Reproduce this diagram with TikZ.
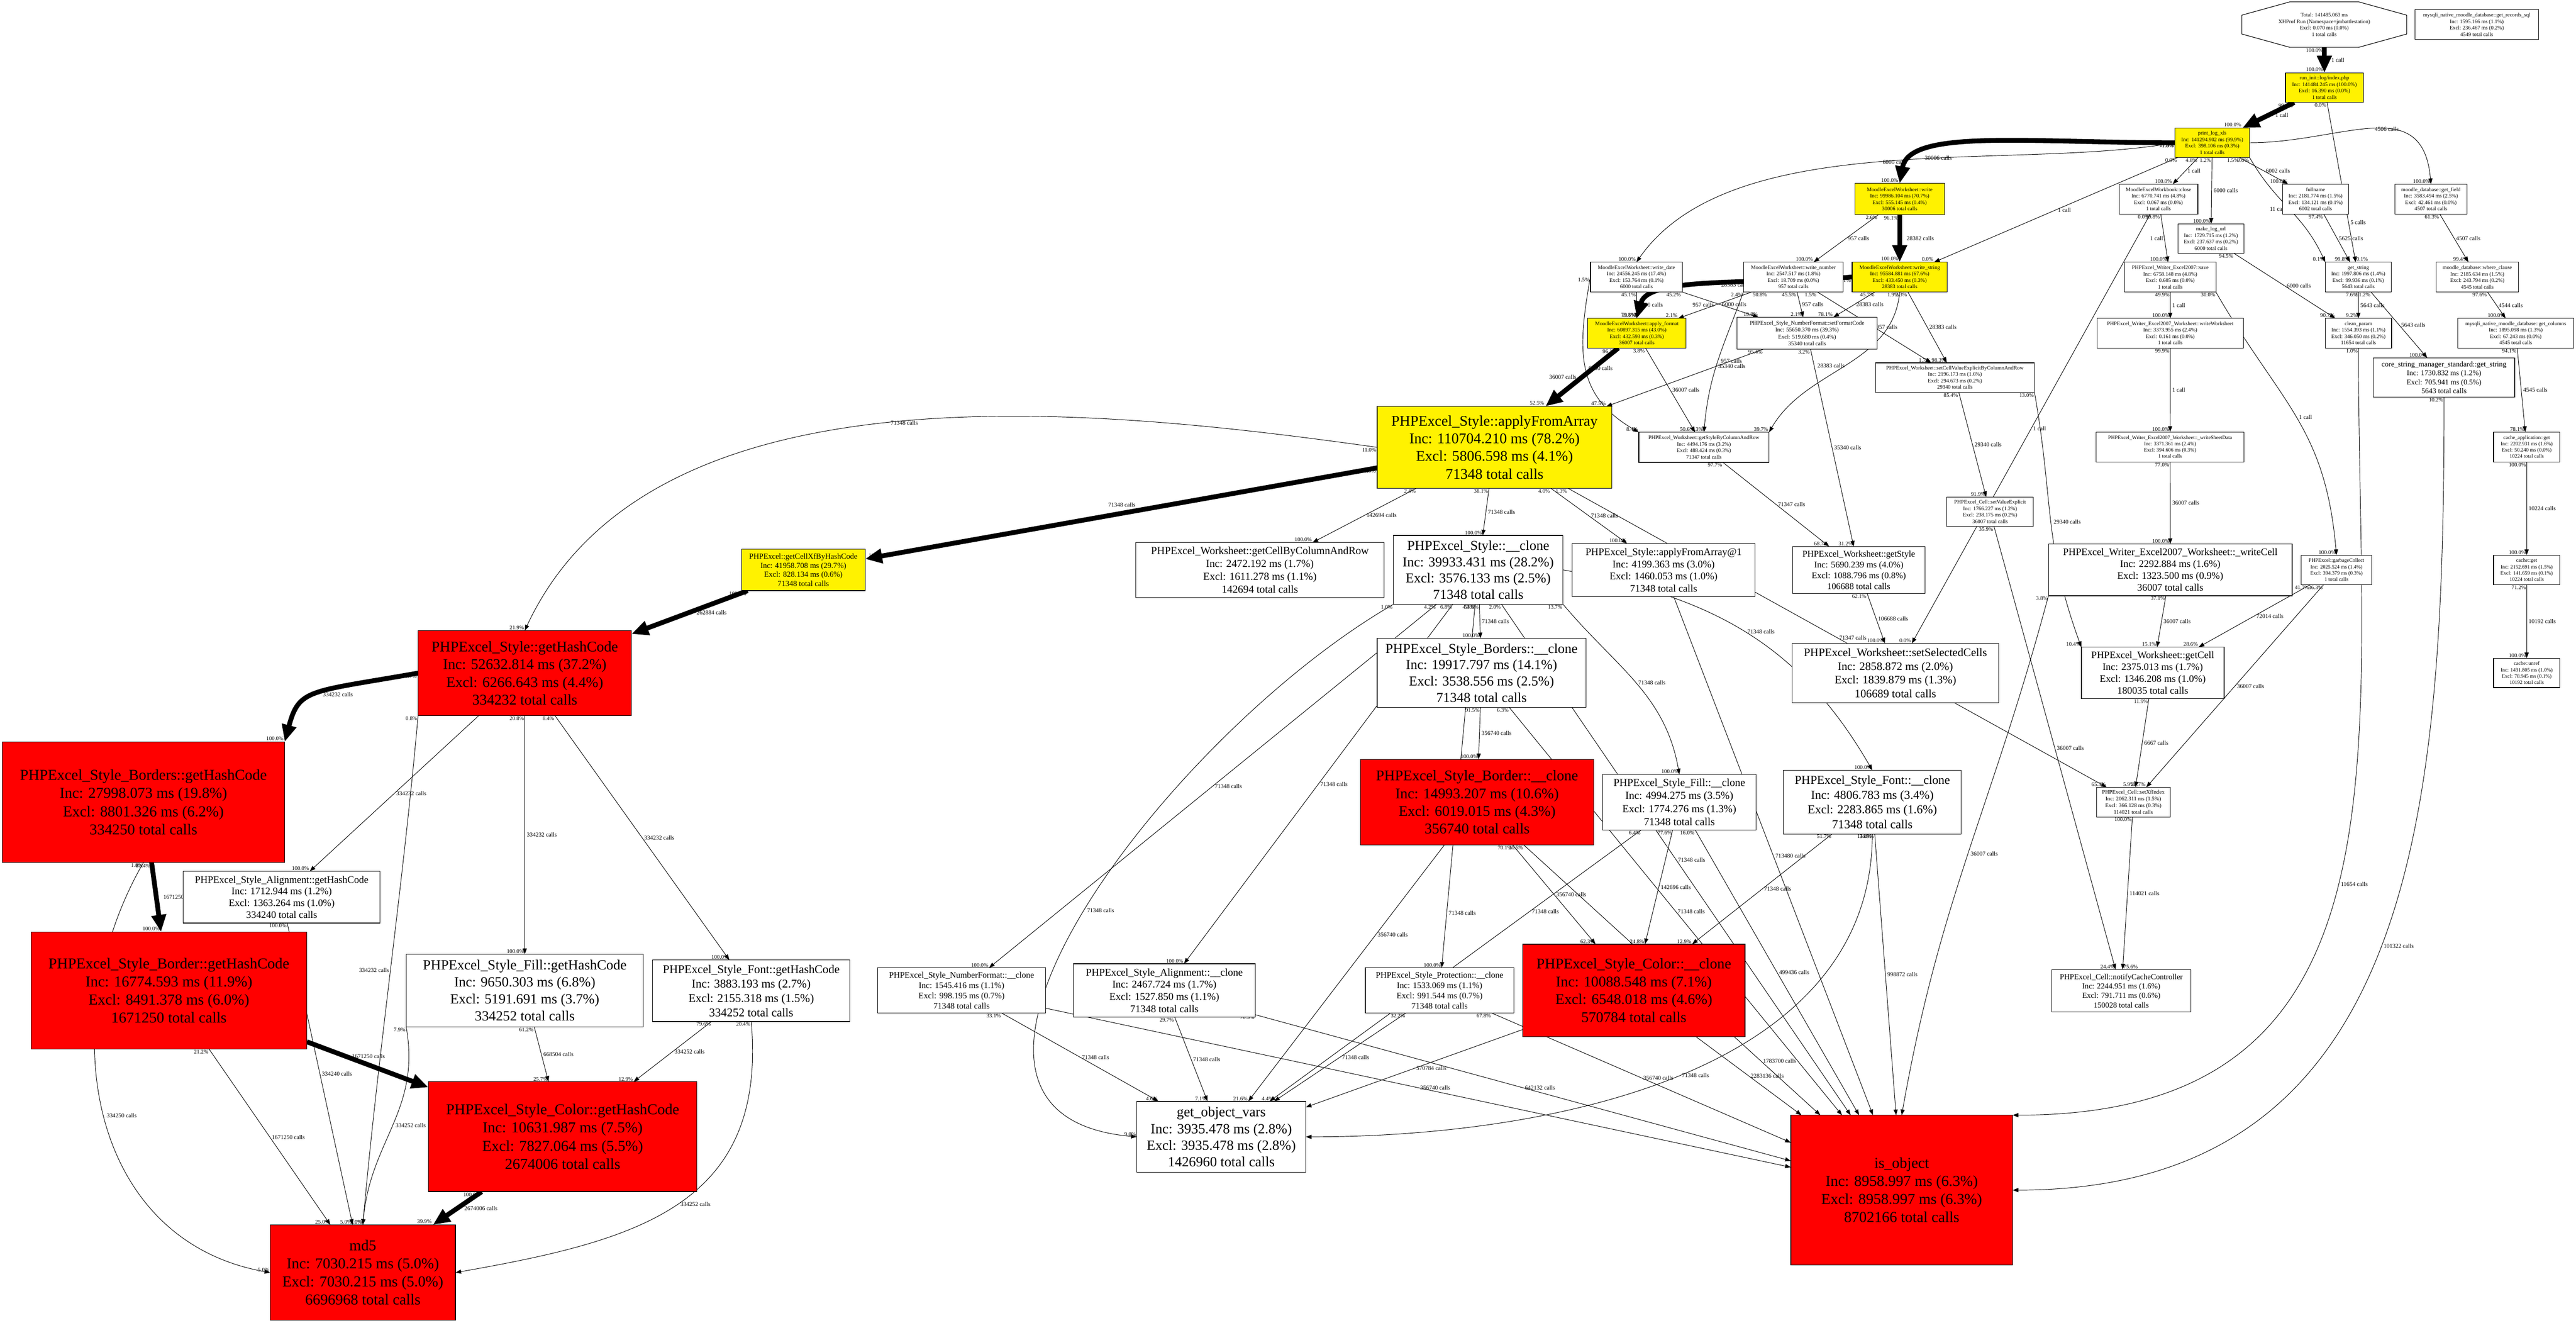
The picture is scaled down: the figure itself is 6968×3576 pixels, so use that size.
\documentclass[tikz,border=0pt]{standalone}
\usepackage{fontspec}
\setmainfont{Liberation Serif}
\usetikzlibrary{arrows.meta,backgrounds}
\begin{document}
\begin{tikzpicture}[x=1pt,y=1pt,scale=0.25,every node/.append style={transform shape},
  box/.style={draw, line width=0.4pt, align=center, inner sep=3pt},
  cool/.style={box, fill=white},
  warm/.style={box, fill=yellow},
  burn/.style={box, fill=red},
  sz/.style args={#1/#2}{minimum width=#1pt, minimum height=#2pt},
  fs/.style args={#1/#2}{font=\fontsize{#1}{#2}\selectfont},
  call/.style={line width=0.33pt, -{Triangle[length=3.8pt,width=2.8pt]}},
  heavy/.style={line width=3.25pt, -{Triangle[length=11.5pt,width=9.5pt]}},
  lbl/.style={midway, right=2pt, font=\fontsize{16}{18}\selectfont},
  lr/.style={right=2pt}, ll/.style={left=2pt},
  tl/.style={pos=0, anchor=north east, inner sep=2pt, font=\fontsize{15}{17}\selectfont},
  hl/.style={pos=1, anchor=south east, inner sep=2pt, font=\fontsize{15}{17}\selectfont}]
\useasboundingbox (0,0) rectangle (6968,-3576);
%% root and run
\draw[line width=0.4pt, fill=white] (6194,-5) -- (6380,-5) -- (6510,-41) -- (6510,-92) -- (6380,-128) -- (6194,-128) -- (6064,-92) -- (6064,-41) -- cycle;
\node[fs=14.5/17.4, align=center, sz=446/123] (total) at (6287,-66.5) {Total: 141485.063 ms\\XHProf Run (Namespace=jmbattlestation)\\Excl: 0.070 ms (0.0\%)\\1 total calls};
\node[cool, fs=14.5/17.4, sz=335/81] (getrec) at (6699.5,-66.5) {mysqli\_native\_moodle\_database::get\_records\_sql\\Inc: 1595.166 ms (1.1\%)\\Excl: 236.467 ms (0.2\%)\\4549 total calls};
\node[warm, fs=14.5/17.4, sz=211/80] (runinit) at (6287.5,-237) {run\_init::log/index.php\\Inc: 141484.245 ms (100.0\%)\\Excl: 16.390 ms (0.0\%)\\1 total calls};
\node[warm, fs=14.5/17.4, sz=202/80] (printlog) at (5984,-386) {print\_log\_xls\\Inc: 141294.902 ms (99.9\%)\\Excl: 398.106 ms (0.3\%)\\1 total calls};
%% moodle layer
\node[warm, fs=14.5/17.4, sz=243/85] (write) at (5138.5,-538.5) {MoodleExcelWorksheet::write\\Inc: 99986.104 ms (70.7\%)\\Excl: 555.145 ms (0.4\%)\\30006 total calls};
\node[cool, fs=14.5/17.4, sz=213/81] (wbclose) at (5838.5,-538.5) {MoodleExcelWorkbook::close\\Inc: 6770.741 ms (4.8\%)\\Excl: 0.067 ms (0.0\%)\\1 total calls};
\node[cool, fs=14.5/17.4, sz=179/81] (fullname) at (6263.5,-538.5) {fullname\\Inc: 2181.774 ms (1.5\%)\\Excl: 134.121 ms (0.1\%)\\6002 total calls};
\node[cool, fs=14.5/17.4, sz=195/81] (getfield) at (6575.5,-538.5) {moodle\_database::get\_field\\Inc: 3583.494 ms (2.5\%)\\Excl: 42.461 ms (0.0\%)\\4507 total calls};
\node[cool, fs=14.5/17.4, sz=179/80] (makelogurl) at (5980.5,-645) {make\_log\_url\\Inc: 1729.715 ms (1.2\%)\\Excl: 237.637 ms (0.2\%)\\6000 total calls};
\node[cool, fs=14.5/17.4, sz=249/80] (wdate) at (4426.5,-749) {MoodleExcelWorksheet::write\_date\\Inc: 24556.245 ms (17.4\%)\\Excl: 153.764 ms (0.1\%)\\6000 total calls};
\node[cool, fs=14.5/17.4, sz=270/80] (wnumber) at (4851,-749) {MoodleExcelWorksheet::write\_number\\Inc: 2547.517 ms (1.8\%)\\Excl: 18.709 ms (0.0\%)\\957 total calls};
\node[warm, fs=14.5/17.4, sz=257/80] (wstring) at (5138.5,-749) {MoodleExcelWorksheet::write\_string\\Inc: 95584.881 ms (67.6\%)\\Excl: 433.450 ms (0.3\%)\\28383 total calls};
\node[cool, fs=14.5/17.4, sz=247/81] (save) at (5870.5,-749.5) {PHPExcel\_Writer\_Excel2007::save\\Inc: 6758.148 ms (4.8\%)\\Excl: 0.605 ms (0.0\%)\\1 total calls};
\node[cool, fs=14.5/17.4, sz=178/81] (getstring) at (6379,-749.5) {get\_string\\Inc: 1997.806 ms (1.4\%)\\Excl: 99.936 ms (0.1\%)\\5643 total calls};
\node[cool, fs=14.5/17.4, sz=224/81] (whereclause) at (6701,-749.5) {moodle\_database::where\_clause\\Inc: 2185.634 ms (1.5\%)\\Excl: 243.794 ms (0.2\%)\\4545 total calls};
\node[warm, fs=14.5/17.4, sz=267/80] (applyformat) at (4427.5,-901) {MoodleExcelWorksheet::apply\_format\\Inc: 60897.315 ms (43.0\%)\\Excl: 432.593 ms (0.3\%)\\36007 total calls};
\node[cool, fs=15.5/18.6, sz=378/86] (setformatcode) at (4888,-901) {PHPExcel\_Style\_NumberFormat::setFormatCode\\Inc: 55650.370 ms (39.3\%)\\Excl: 519.680 ms (0.4\%)\\35340 total calls};
\node[cool, fs=14.5/17.4, sz=395/80] (writeworksheet) at (5870.5,-901) {PHPExcel\_Writer\_Excel2007\_Worksheet::writeWorksheet\\Inc: 3373.955 ms (2.4\%)\\Excl: 0.161 ms (0.0\%)\\1 total calls};
\node[cool, fs=14.5/17.4, sz=179/80] (cleanparam) at (6379.5,-901) {clean\_param\\Inc: 1554.393 ms (1.1\%)\\Excl: 346.050 ms (0.2\%)\\11654 total calls};
\node[cool, fs=14.5/17.4, sz=314/80] (getcolumns) at (6805,-901) {mysqli\_native\_moodle\_database::get\_columns\\Inc: 1895.098 ms (1.3\%)\\Excl: 67.243 ms (0.0\%)\\4545 total calls};
\node[cool, fs=20/24, sz=382/106] (corestring) at (6611,-1021) {core\_string\_manager\_standard::get\_string\\Inc: 1730.832 ms (1.2\%)\\Excl: 705.941 ms (0.5\%)\\5643 total calls};
\node[cool, fs=14.5/17.4, sz=430/80] (setcellvalue) at (5288,-1021) {PHPExcel\_Worksheet::setCellValueExplicitByColumnAndRow\\Inc: 2196.173 ms (1.6\%)\\Excl: 294.673 ms (0.2\%)\\29340 total calls};
%% phpexcel layer
\node[warm, fs=40/48, sz=635/221] (afa) at (4042.5,-1209.5) {PHPExcel\_Style::applyFromArray\\Inc: 110704.210 ms (78.2\%)\\Excl: 5806.598 ms (4.1\%)\\71348 total calls};
\node[cool, fs=14/17, sz=400/81] (writesheetdata) at (5870,-1208.5) {PHPExcel\_Writer\_Excel2007\_Worksheet::\_writeSheetData\\Inc: 3371.361 ms (2.4\%)\\Excl: 394.606 ms (0.3\%)\\1 total calls};
\node[cool, fs=14/17, sz=179/81] (cacheappget) at (6834.5,-1208.5) {cache\_application::get\\Inc: 2202.931 ms (1.6\%)\\Excl: 50.240 ms (0.0\%)\\10224 total calls};
\node[cool, fs=14.5/17.4, sz=352/81] (getstylebycr) at (4609,-1209.5) {PHPExcel\_Worksheet::getStyleByColumnAndRow\\Inc: 4494.176 ms (3.2\%)\\Excl: 488.424 ms (0.3\%)\\71347 total calls};
\node[cool, fs=14.5/17.4, sz=234/80] (setvalueexplicit) at (5383,-1384) {PHPExcel\_Cell::setValueExplicit\\Inc: 1766.227 ms (1.2\%)\\Excl: 238.175 ms (0.2\%)\\36007 total calls};
\node[warm, fs=21/25, sz=334/112] (getcellxf) at (2173,-1541) {PHPExcel::getCellXfByHashCode\\Inc: 41958.708 ms (29.7\%)\\Excl: 828.134 ms (0.6\%)\\71348 total calls};
\node[cool, fs=29/35, sz=672/149] (getcellbycr) at (3408,-1541.5) {PHPExcel\_Worksheet::getCellByColumnAndRow\\Inc: 2472.192 ms (1.7\%)\\Excl: 1611.278 ms (1.1\%)\\142694 total calls};
\node[cool, fs=37/44, sz=459/186] (styleclone) at (3998.5,-1541) {PHPExcel\_Style::\_\_clone\\Inc: 39933.431 ms (28.2\%)\\Excl: 3576.133 ms (2.5\%)\\71348 total calls};
\node[cool, fs=27.5/33, sz=494/143] (afa1) at (4500,-1541.5) {PHPExcel\_Style::applyFromArray@1\\Inc: 4199.363 ms (3.0\%)\\Excl: 1460.053 ms (1.0\%)\\71348 total calls};
\node[cool, fs=24/29, sz=358/127] (getstyle) at (5028,-1541.5) {PHPExcel\_Worksheet::getStyle\\Inc: 5690.239 ms (4.0\%)\\Excl: 1088.796 ms (0.8\%)\\106688 total calls};
\node[cool, fs=27/32, sz=659/140] (writecell) at (5870.5,-1541) {PHPExcel\_Writer\_Excel2007\_Worksheet::\_writeCell\\Inc: 2292.884 ms (1.6\%)\\Excl: 1323.500 ms (0.9\%)\\36007 total calls};
\node[cool, fs=14/17, sz=190/80] (garbage) at (6320,-1541) {PHPExcel::garbageCollect\\Inc: 2025.524 ms (1.4\%)\\Excl: 394.379 ms (0.3\%)\\1 total calls};
\node[cool, fs=14/17, sz=179/80] (cacheget) at (6834.5,-1541) {cache::get\\Inc: 2152.691 ms (1.5\%)\\Excl: 141.659 ms (0.1\%)\\10224 total calls};
\node[burn, fs=40/48, sz=577/230] (stylehash) at (1419.5,-1820) {PHPExcel\_Style::getHashCode\\Inc: 52632.814 ms (37.2\%)\\Excl: 6266.643 ms (4.4\%)\\334232 total calls};
\node[cool, fs=37/44, sz=565/187] (bordersclone) at (4007.5,-1819.5) {PHPExcel\_Style\_Borders::\_\_clone\\Inc: 19917.797 ms (14.1\%)\\Excl: 3538.556 ms (2.5\%)\\71348 total calls};
\node[cool, fs=31/37, sz=558/160] (setselected) at (5127,-1820) {PHPExcel\_Worksheet::setSelectedCells\\Inc: 2858.872 ms (2.0\%)\\Excl: 1839.879 ms (1.3\%)\\106689 total calls};
\node[cool, fs=27/32, sz=386/139] (getcell) at (5823,-1819.5) {PHPExcel\_Worksheet::getCell\\Inc: 2375.013 ms (1.7\%)\\Excl: 1346.208 ms (1.0\%)\\180035 total calls};
\node[cool, fs=14/17, sz=179/79] (cacheunref) at (6834.5,-1819.5) {cache::unref\\Inc: 1431.805 ms (1.0\%)\\Excl: 78.945 ms (0.1\%)\\10192 total calls};
\node[burn, fs=41/49, sz=764/326] (bordershash) at (388,-2169) {PHPExcel\_Style\_Borders::getHashCode\\Inc: 27998.073 ms (19.8\%)\\Excl: 8801.326 ms (6.2\%)\\334250 total calls};
\node[burn, fs=40/48, sz=631/232] (borderclone) at (3995.5,-2169) {PHPExcel\_Style\_Border::\_\_clone\\Inc: 14993.207 ms (10.6\%)\\Excl: 6019.015 ms (4.3\%)\\356740 total calls};
\node[cool, fs=29/35, sz=415/150] (fillclone) at (4542.5,-2169) {PHPExcel\_Style\_Fill::\_\_clone\\Inc: 4994.275 ms (3.5\%)\\Excl: 1774.276 ms (1.3\%)\\71348 total calls};
\node[cool, fs=33/40, sz=481/172] (fontclone) at (5064.5,-2169) {PHPExcel\_Style\_Font::\_\_clone\\Inc: 4806.783 ms (3.4\%)\\Excl: 2283.865 ms (1.6\%)\\71348 total calls};
\node[cool, fs=15/18, sz=199/80] (setxf) at (5770.5,-2169) {PHPExcel\_Cell::setXfIndex\\Inc: 2062.311 ms (1.5\%)\\Excl: 366.128 ms (0.3\%)\\114021 total calls};
\node[cool, fs=27/32, sz=532/140] (alignhash) at (762,-2426) {PHPExcel\_Style\_Alignment::getHashCode\\Inc: 1712.944 ms (1.2\%)\\Excl: 1363.264 ms (1.0\%)\\334240 total calls};
\node[burn, fs=41/49, sz=746/317] (borderhash) at (457,-2678.5) {PHPExcel\_Style\_Border::getHashCode\\Inc: 16774.593 ms (11.9\%)\\Excl: 8491.378 ms (6.0\%)\\1671250 total calls};
\node[burn, fs=40/48, sz=601/250] (colorclone) at (4419.5,-2678) {PHPExcel\_Style\_Color::\_\_clone\\Inc: 10088.548 ms (7.1\%)\\Excl: 6548.018 ms (4.6\%)\\570784 total calls};
\node[cool, fs=38/46, sz=641/197] (fillhash) at (1419.5,-2678.5) {PHPExcel\_Style\_Fill::getHashCode\\Inc: 9650.303 ms (6.8\%)\\Excl: 5191.691 ms (3.7\%)\\334252 total calls};
\node[cool, fs=32/39, sz=534/166] (fonthash) at (2032,-2679) {PHPExcel\_Style\_Font::getHashCode\\Inc: 3883.193 ms (2.7\%)\\Excl: 2155.318 ms (1.5\%)\\334252 total calls};
\node[cool, fs=23/28, sz=454/122] (numfmtclone) at (2601,-2678) {PHPExcel\_Style\_NumberFormat::\_\_clone\\Inc: 1545.416 ms (1.1\%)\\Excl: 998.195 ms (0.7\%)\\71348 total calls};
\node[cool, fs=28/33, sz=491/144] (alignclone) at (3149.5,-2678) {PHPExcel\_Style\_Alignment::\_\_clone\\Inc: 2467.724 ms (1.7\%)\\Excl: 1527.850 ms (1.1\%)\\71348 total calls};
\node[cool, fs=23/28, sz=402/122] (protclone) at (3894,-2678) {PHPExcel\_Style\_Protection::\_\_clone\\Inc: 1533.069 ms (1.1\%)\\Excl: 991.544 ms (0.7\%)\\71348 total calls};
\node[cool, fs=21/25.5, sz=376/115] (notify) at (5738,-2679) {PHPExcel\_Cell::notifyCacheController\\Inc: 2244.951 ms (1.6\%)\\Excl: 791.711 ms (0.6\%)\\150028 total calls};
\node[burn, fs=41/49, sz=726/297] (colorhash) at (1522,-3073.5) {PHPExcel\_Style\_Color::getHashCode\\Inc: 10631.987 ms (7.5\%)\\Excl: 7827.064 ms (5.5\%)\\2674006 total calls};
\node[cool, fs=38/45, sz=457/192] (objvars) at (3303.5,-3074) {get\_object\_vars\\Inc: 3935.478 ms (2.8\%)\\Excl: 3935.478 ms (2.8\%)\\1426960 total calls};
\node[burn, fs=41/49, sz=600/405] (isobject) at (5144,-3218) {is\_object\\Inc: 8958.997 ms (6.3\%)\\Excl: 8958.997 ms (6.3\%)\\8702166 total calls};
\node[burn, fs=41/49, sz=501/258] (md5) at (981.5,-3441) {md5\\Inc: 7030.215 ms (5.0\%)\\Excl: 7030.215 ms (5.0\%)\\6696968 total calls};
\begin{pgfonlayer}{background}
\fill[white] (0,0) rectangle (6968,-3576);
%% straight calls
\foreach \na/\nb/\cl/\ta/\hd in {printlog/wstring/1 call/0.0\%/0.0\%,
  printlog/wbclose/1 call/4.8\%/100.0\%, printlog/makelogurl/6000 calls/1.2\%/100.0\%,
  printlog/fullname/6002 calls/1.5\%/100.0\%, write/wnumber/957 calls/2.6\%/100.0\%,
  wdate/applyformat/6000 calls/45.1\%/18.1\%, wdate/setformatcode/6000 calls/45.2\%/19.8\%,
  wnumber/setformatcode/957 calls/45.5\%/2.1\%,
  wnumber/setcellvalue/957 calls/1.5\%/1.7\%, wstring/setformatcode/28383 calls/45.7\%/78.1\%,
  wstring/setcellvalue/28383 calls/2.3\%/98.3\%,
  wbclose/setselected/1 call/0.0\%/0.0\%, makelogurl/cleanparam/6000 calls/94.5\%/90.7\%,
  fullname/getstring/5625 calls/97.4\%/99.8\%, getfield/whereclause/4507 calls/61.3\%/99.4\%,
  save/writeworksheet/1 call/49.9\%/100.0\%, getstring/cleanparam/5643 calls/7.6\%/9.2\%,
  getstring/corestring/5643 calls/91.2\%/100.0\%, whereclause/getcolumns/4544 calls/97.6\%/100.0\%,
  writeworksheet/writesheetdata/1 call/99.9\%/100.0\%, getcolumns/cacheappget/4545 calls/94.1\%/78.1\%,
  applyformat/getstylebycr/36007 calls/3.8\%/50.6\%,
  setformatcode/getstyle/35340 calls/3.2\%/31.2\%, setcellvalue/setvalueexplicit/29340 calls/85.4\%/91.9\%,
  writesheetdata/writecell/36007 calls/77.0\%/100.0\%, cacheappget/cacheget/10224 calls/100.0\%/100.0\%,
  getstylebycr/getstyle/71347 calls/97.7\%/68.7\%, afa/getcellbycr/142694 calls/2.4\%/100.0\%,
  afa/styleclone/71348 calls/38.1\%/100.0\%, afa/afa1/71348 calls/4.0\%/100.0\%,
  afa/setxf/71347 calls/1.3\%/65.3\%, setvalueexplicit/notify/36007 calls/35.9\%/24.4\%,
  writecell/getcell/36007 calls/37.1\%/15.1\%, garbage/getcell/72014 calls/41.7\%/28.6\%,
  garbage/setxf/36007 calls/36.3\%/28.7\%, cacheget/cacheunref/10192 calls/71.2\%/100.0\%,
  getstyle/setselected/106688 calls/62.1\%/100.0\%, getcell/setxf/6667 calls/11.9\%/5.9\%,
  styleclone/bordersclone/71348 calls/54.8\%/100.0\%,
  styleclone/numfmtclone/71348 calls/4.2\%/100.0\%, styleclone/alignclone/71348 calls/6.8\%/100.0\%,
  styleclone/isobject/71348 calls/2.0\%/,
  bordersclone/borderclone/356740 calls/91.5\%/100.0\%, bordersclone/isobject/71348 calls/6.3\%/,
  borderclone/colorclone/356740 calls/70.1\%/62.3\%,
  fillclone/colorclone/142696 calls/77.6\%/24.8\%,
  fillclone/isobject/499436 calls/16.0\%/,
  fontclone/colorclone/71348 calls/51.7\%/12.9\%, fontclone/isobject/998872 calls/34.9\%/,
  numfmtclone/objvars/71348 calls/33.1\%/4.6\%, numfmtclone/isobject/356740 calls/66.9\%/,
  alignclone/objvars/71348 calls/29.7\%/7.1\%, alignclone/isobject/642132 calls/70.3\%/,
  protclone/objvars/71348 calls/32.2\%/4.4\%, protclone/isobject/356740 calls/67.8\%/,
  colorclone/objvars/570784 calls//30.3\%, colorclone/isobject/2283136 calls//,
  afa1/isobject/713480 calls//, stylehash/alignhash/334232 calls//100.0\%,
  stylehash/fillhash/334232 calls/20.8\%/100.0\%, stylehash/fonthash/334232 calls/8.4\%/100.0\%,
  alignhash/md5/334240 calls/100.0\%/5.0\%, borderhash/md5/1671250 calls/21.2\%/25.0\%,
  fillhash/colorhash/668504 calls/61.2\%/25.7\%, fonthash/colorhash/334252 calls/79.6\%/12.9\%}
  \draw[call] (\na) -- node[lbl]{\cl} node[tl]{\ta} node[hl]{\hd} (\nb);
%% straight calls, label moved along the line
\foreach \na/\nb/\cl/\ta/\hd/\ps in {setformatcode/afa/35340 calls/95.4\%/47.5\%/0.3,
  styleclone/protclone/71348 calls/4.3\%/100.0\%/0.85, borderclone/isobject/1783700 calls/20.5\%//0.8,
  borderclone/objvars/356740 calls//21.6\%/0.35, fillclone/objvars/71348 calls/6.4\%//0.3}
  \draw[call] (\na) -- node[lbl, pos=\ps]{\cl} node[tl]{\ta} node[hl]{\hd} (\nb);
\draw[call] (wnumber) -- node[lbl, left=2pt]{957 calls} node[tl, anchor=north west]{50.8\%} node[hl]{2.1\%} (applyformat);
\draw[call] (wbclose) -- node[lbl, left=2pt]{1 call} node[tl]{99.8\%} node[hl]{100.0\%} (save);
\draw[call] (runinit) -- node[lbl, pos=0.75]{5 calls} node[tl]{0.0\%} node[hl, anchor=south west]{0.1\%} (getstring);
\draw[call] (setxf) -- node[lbl]{114021 calls} node[tl]{100.0\%} node[hl, anchor=south west]{75.6\%} (notify);
%% bent calls
\foreach \na/\nb/\oa/\ia/\dd/\sd/\cl/\ta/\hd in {printlog.west/wdate.north/190/55/450/lr/6000 calls/17.4\%/100.0\%,
  printlog.east/getfield.north/0/95/250/lr/4506 calls/2.5\%/100.0\%,
  printlog.south east/getstring.north west/-60/115/150/ll/11 calls/0.0\%/0.1\%,
  wnumber.south west/getstylebycr.north/-110/85/160/lr/957 calls/2.4\%/1.3\%,
  wstring.south/getstylebycr.north east/-95/60/200/ll/28383 calls/1.9\%/39.7\%,
  wdate.west/getstylebycr.north west/-100/150/200/lr/6000 calls/1.5\%/8.4\%,
  save.south east/garbage.north/-60/95/350/lr/1 call/30.0\%/100.0\%,
  setcellvalue.south east/getcell.north west/-80/110/300/lr/29340 calls/13.0\%/10.4\%,
  styleclone.south east/fillclone.north/-50/100/220/lr/71348 calls/13.7\%/100.0\%,
  styleclone.east/fontclone.north/-10/120/400/lr/71348 calls/13.2\%/100.0\%,
  styleclone.south west/objvars.west/210/175/700/lr/71348 calls/1.0\%/9.0\%,
  fontclone.south/objvars.east/-90/0/650/lr/71348 calls/13.4\%/8.6\%,
  bordershash.south/md5.west/-120/170/500/lr/334250 calls/1.8\%/5.0\%,
  stylehash.south west/md5.north/-95/85/450/ll/334232 calls/0.8\%/5.0\%,
  fillhash.south west/md5.north/-80/85/230/lr/334252 calls/7.9\%/5.0\%,
  fonthash.south/md5.east/-85/10/500/lr/334252 calls/20.4\%/5.0\%,
  afa.west/stylehash.north/172/65/800/lr/71348 calls/11.0\%/21.9\%,
  cleanparam.south/isobject.north east/-90/0/1100/lr/11654 calls/1.0\%/,
  corestring.south/isobject.east/-90/0/1100/lr/101322 calls/10.2\%/,
  writecell.south west/isobject.north/-105/80/600/lr/36007 calls/3.8\%/}
  \draw[call] (\na) .. controls +(\oa:\dd) and +(\ia:\dd) .. node[lbl,\sd]{\cl} node[tl]{\ta} node[hl]{\hd} (\nb);
%% hot path
\draw[heavy] (total) -- node[lbl, right=12pt]{1 call} node[tl]{100.0\%} node[hl]{100.0\%} (runinit);
\draw[heavy] (runinit) -- node[lbl, right=12pt]{1 call} node[tl]{99.9\%} node[hl]{100.0\%} (printlog);
\draw[heavy] (printlog.west) .. controls +(180:400) and +(80:150) .. node[lbl, pos=0.8, right=12pt]{30006 calls} node[tl]{71.0\%} node[hl]{100.0\%} (write.north);
\draw[heavy] (write) -- node[lbl, right=12pt]{28382 calls} node[tl]{96.1\%} node[hl]{100.0\%} (wstring);
\draw[heavy] (wstring.west) .. controls +(185:250) and +(75:120) .. node[lbl, right=12pt]{28383 calls} node[tl]{50.1\%} node[hl]{79.8\%} (applyformat.north);
\draw[heavy] (applyformat) -- node[lbl, left=12pt]{36007 calls} node[tl]{96.1\%} node[hl]{52.5\%} (afa);
\draw[heavy] (afa) -- node[lbl, above=12pt]{71348 calls} node[tl]{40.0\%} node[hl, anchor=south west, xshift=6pt]{100.0\%} (getcellxf);
\draw[heavy] (getcellxf) -- node[lbl, right=12pt]{262884 calls} node[tl]{100.0\%} (stylehash);
\draw[heavy] (stylehash.west) .. controls +(190:300) and +(75:150) .. node[lbl, right=12pt]{334232 calls} node[tl]{3.7\%} node[hl]{100.0\%} (bordershash.north east);
\draw[heavy] (bordershash) -- node[lbl, right=12pt]{1671250 calls} node[tl]{87.4\%} node[hl]{100.0\%} (borderhash);
\draw[heavy] (borderhash) -- node[lbl, above=12pt]{1671250 calls} node[tl]{78.8\%} (colorhash);
\draw[heavy] (colorhash) -- node[lbl, right=12pt]{2674006 calls} node[tl]{100.0\%} node[hl]{39.9\%} (md5);
\end{pgfonlayer}
\end{tikzpicture}
\end{document}
